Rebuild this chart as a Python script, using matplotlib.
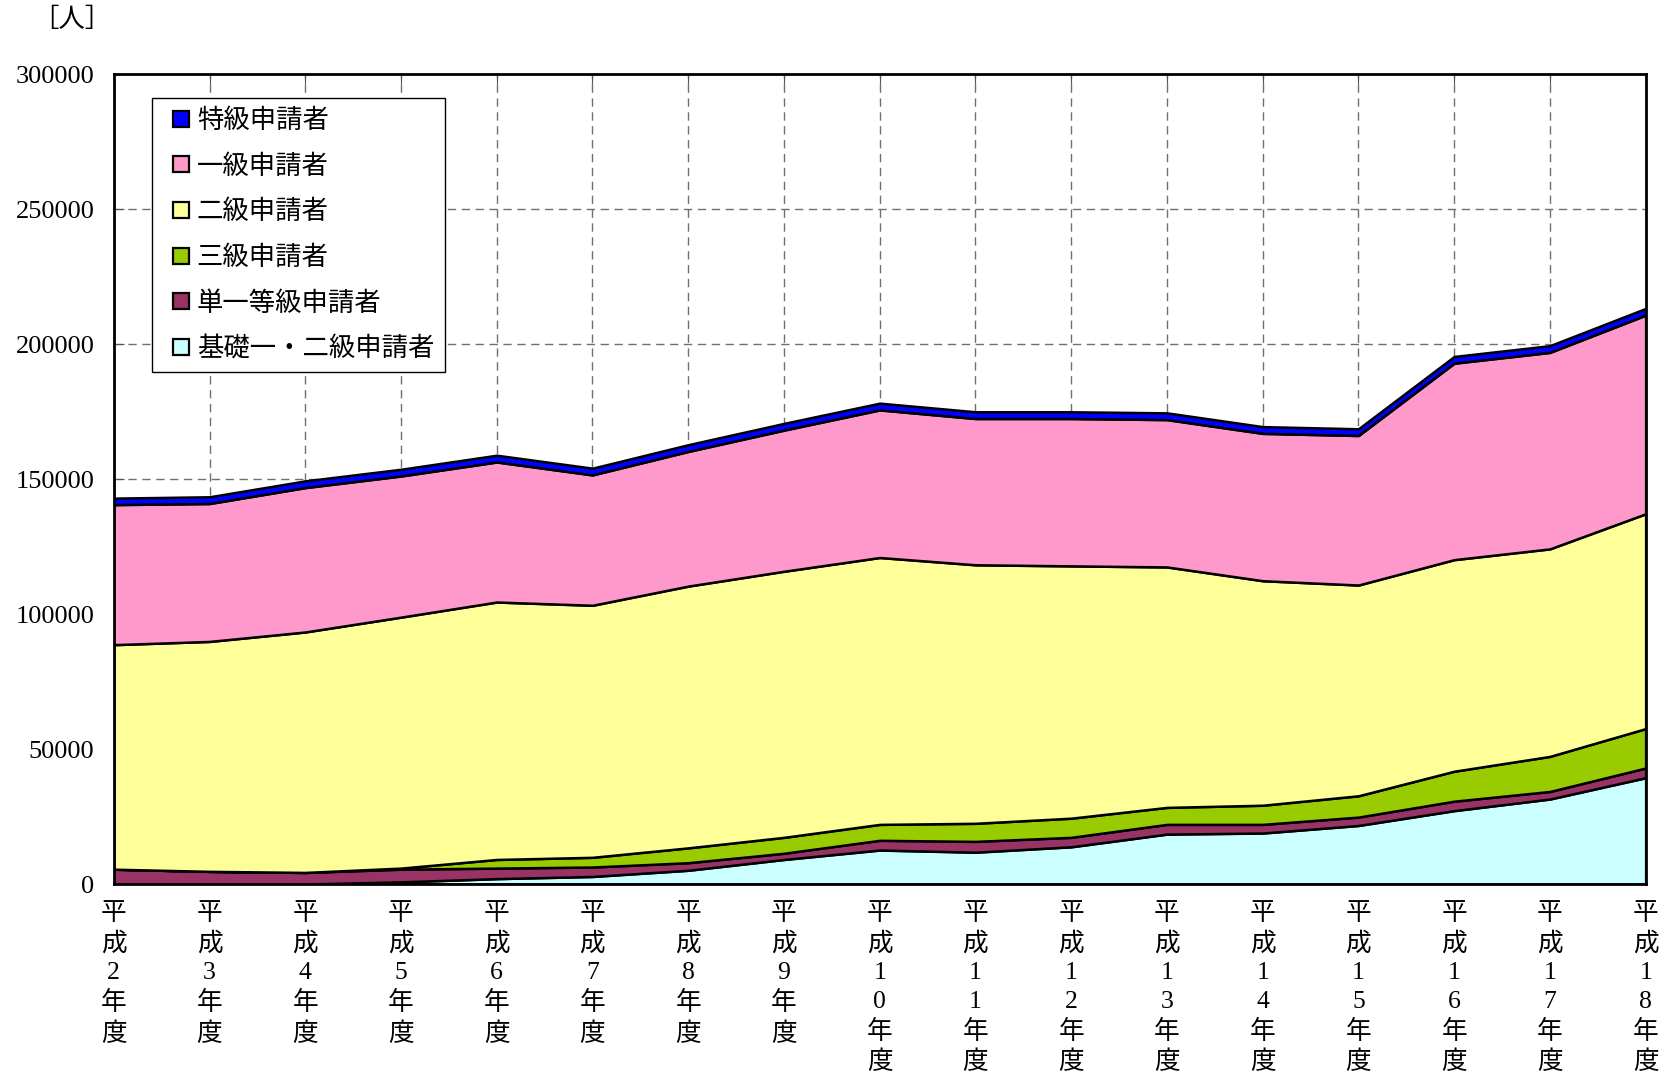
import matplotlib
matplotlib.use('Agg')
import matplotlib.pyplot as plt
from matplotlib.lines import Line2D

plt.rcParams['font.family'] = ['Liberation Serif', 'Noto Sans CJK JP']

# 年度 (平成)
years = [2, 3, 4, 5, 6, 7, 8, 9, 10, 11, 12, 13, 14, 15, 16, 17, 18]

# 申請者数 [人]
basic = [0, 0, 0, 800, 2000, 2800, 5100, 9100, 12600, 11800, 13800, 18500,
         18900, 21700, 27200, 31500, 39400]
single = [5500, 4700, 4300, 4700, 3900, 3500, 2800, 2300, 3600, 4000, 3500,
          3600, 3200, 3100, 3500, 2800, 3600]
third = [0, 0, 0, 400, 3200, 3600, 5500, 5900, 5900, 6700, 7100, 6300,
         7100, 7900, 11100, 13000, 14600]
second = [83200, 85200, 89100, 93000, 95400, 93400, 97000, 98600, 98900,
          95800, 93500, 89100, 83200, 78100, 78400, 76900, 79600]
first = [51900, 51100, 53500, 52300, 51900, 48300, 49900, 52300, 54700,
         54200, 54600, 54600, 54600, 55400, 72800, 72800, 73600]
special = [2400, 2500, 2500, 2500, 2500, 2500, 2500, 2500, 2500, 2500, 2500,
           2500, 2500, 2500, 2500, 2500, 2500]

labels = ['基礎一・二級申請者', '単一等級申請者', '三級申請者', '二級申請者',
          '一級申請者', '特級申請者']
colors = ['#CCFFFF', '#993366', '#99CC00', '#FFFF99', '#FF99CC', '#0000FF']

fig = plt.figure(figsize=(16.68, 10.79), dpi=100)
ax = fig.add_axes([0.0682, 0.1807, 0.9184, 0.7503])

x = list(range(len(years)))
ax.stackplot(x, basic, single, third, second, first, special,
             colors=colors, edgecolor='black', linewidth=1.8)

ax.set_xlim(0, len(years) - 1)
ax.set_ylim(0, 300000)
ax.set_yticks(range(0, 300001, 50000))
ax.set_yticklabels([str(v) for v in range(0, 300001, 50000)])

xlabels = []
for y in years:
    xlabels.append('\n'.join(['平', '成'] + list(str(y)) + ['年', '度']))
ax.set_xticks(x)
ax.set_xticklabels(xlabels, linespacing=1.37, va='top')

ax.grid(True, color='#707070', linestyle=(0, (6, 4)), linewidth=1)
ax.set_axisbelow(True)
ax.tick_params(axis='x', direction='in', top=True, length=7, pad=14,
               labelsize=18.5, color='#555555')
ax.tick_params(axis='y', direction='in', length=7, pad=14, labelsize=19,
               color='#555555')
for s in ax.spines.values():
    s.set_linewidth(2)
    s.set_color('black')

# legend: top entry is the top layer
handles = []
for c in colors[::-1]:
    handles.append(Line2D([], [], marker='s', linestyle='none', markersize=11,
                          markerfacecolor=c, markeredgecolor='black',
                          markeredgewidth=1.6))
leg = ax.legend(handles, labels[::-1], loc='upper left',
                bbox_to_anchor=(0.0249, 0.971), borderaxespad=0,
                fancybox=False, edgecolor='black', framealpha=1,
                prop={'size': 19}, handlelength=1.4, handletextpad=-0.1,
                labelspacing=0.8, borderpad=0.4)
leg.get_frame().set_linewidth(1)

fig.text(0.019, 0.993, '［人］', fontsize=19, va='top', ha='left')

fig.savefig('out.png', dpi=100)
